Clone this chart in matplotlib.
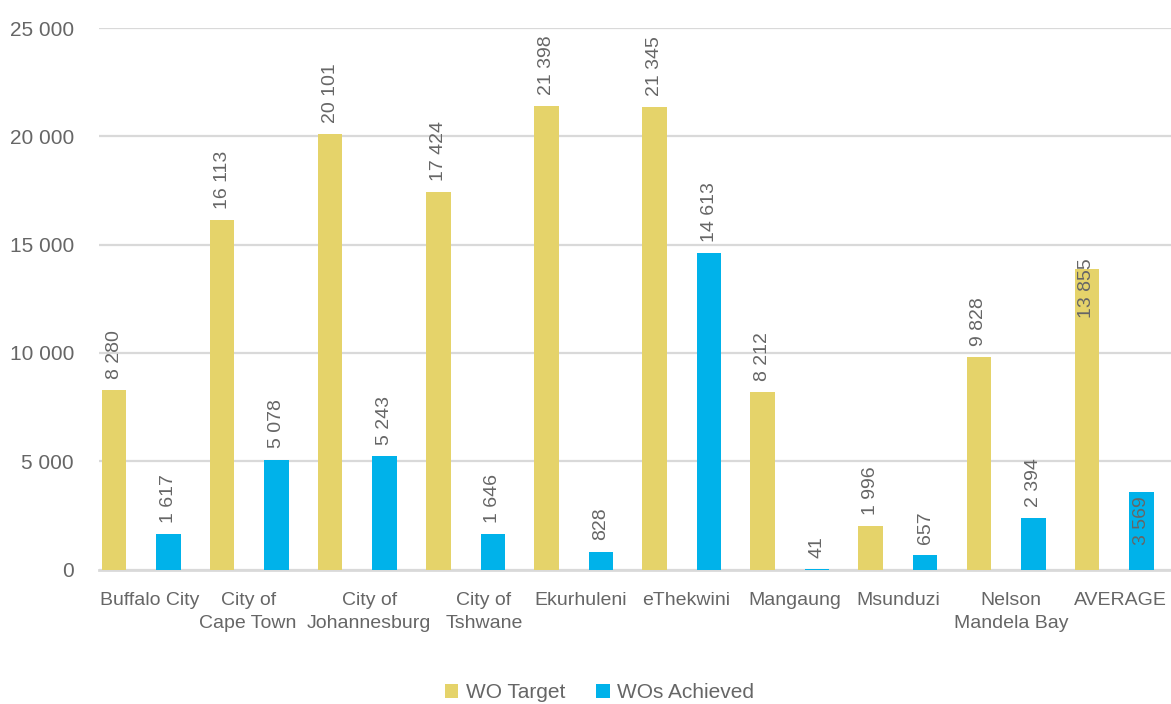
import matplotlib
matplotlib.use("Agg")
from matplotlib import pyplot as plt
import numpy as np

# data
cities = ["Buffalo City", "City of\nCape Town", "City of\nJohannesburg", "City of\nTshwane",
          "Ekurhuleni", "eThekwini", "Mangaung", "Msunduzi", "Nelson\nMandela Bay", "AVERAGE"]
wo_target = [8280, 16113, 20101, 17424, 21398, 21345, 8212, 1996, 9828, 13855]
wo_achieved = [1617, 5078, 5243, 1646, 828, 14613, 41, 657, 2394, 3569]
y_ticks = [0, 5000, 10000, 15000, 20000, 25000]

YELLOW = "#E5D36A"
BLUE = "#00B2EA"
GREY = "#666666"

plt.rcParams['font.family'] = ['Liberation Sans', 'DejaVu Sans']

def fmt(v):
    return f"{v:,}".replace(",", " ")

fig = plt.figure(figsize=(11.71, 7.04), dpi=100)
ax = fig.add_axes([99/1171, 134.5/704, 1072/1171, 541.5/704])

x = np.arange(len(cities))
w = 0.227
b1 = ax.bar(x + 0.139, wo_target, w, color=YELLOW, label="WO Target", zorder=3)
b2 = ax.bar(x + 0.643, wo_achieved, w, color=BLUE, label="WOs Achieved", zorder=3)

# data labels, rotated; the AVERAGE ones sit inside the bar top
last = len(cities) - 1
for bars, inside_off in ((b1, 8), (b2, -3)):
    for i, r in enumerate(bars):
        cx = r.get_x() + r.get_width() / 2
        h = r.get_height()
        if i == last:
            ax.annotate(fmt(int(h)), (cx, h), xytext=(0, inside_off), textcoords="offset points",
                        rotation=90, ha="center", va="top", fontsize=14, color=GREY, zorder=4)
        else:
            ax.annotate(fmt(int(h)), (cx, h), xytext=(0, 8), textcoords="offset points",
                        rotation=90, ha="center", va="bottom", fontsize=14, color=GREY, zorder=4)

# category labels are not quite centred in the original (Excel wrapping)
label_pos = [0.47, 0.38, 0.50, 0.56, 0.46, 0.43, 0.44, 0.39, 0.44, 0.45]

ax.set_xlim(0, 1072/108.1)
ax.set_ylim(0, 25000)
ax.set_yticks(y_ticks)
ax.set_yticklabels([fmt(v) for v in y_ticks], fontsize=15)
ax.set_xticks(x + np.array(label_pos))
ax.set_xticklabels(cities, fontsize=14, linespacing=1.5)
ax.tick_params(axis="both", length=0, labelcolor=GREY)
ax.tick_params(axis="y", pad=18)
ax.tick_params(axis="x", pad=16)

ax.grid(axis="y", color="#D9D9D9", linewidth=1.6, zorder=0)
for s in ["top", "right", "left"]:
    ax.spines[s].set_visible(False)
ax.spines["bottom"].set_color("#D9D9D9")
ax.spines["bottom"].set_linewidth(2)
ax.spines["bottom"].set_zorder(2)

fig.legend(handles=[b1, b2], loc="center", bbox_to_anchor=(0.512, 0.016), ncol=2, frameon=False,
           fontsize=15, labelcolor=GREY, handlelength=0.65, handleheight=0.65,
           handletextpad=0.35, columnspacing=1.5)

fig.savefig("out.png", dpi=100)
